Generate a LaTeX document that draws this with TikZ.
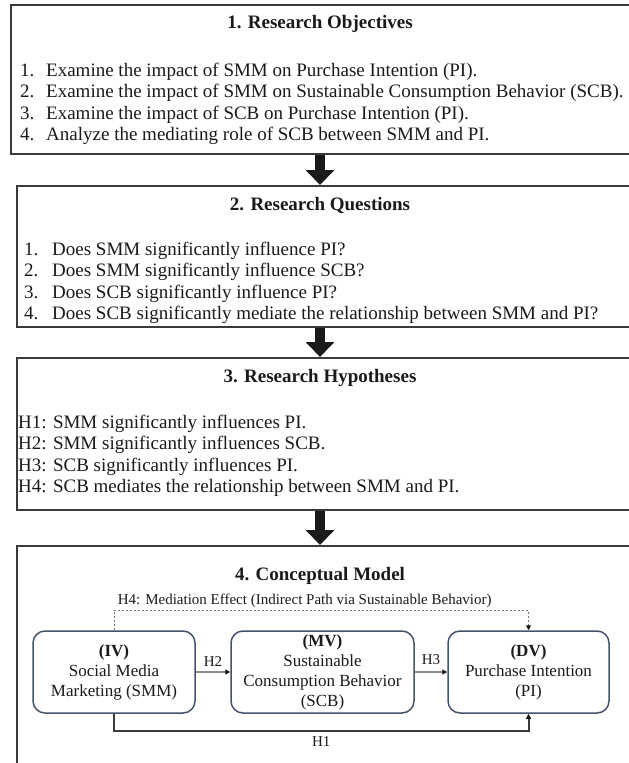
\documentclass[tikz,border=0pt]{standalone}
\usepackage{fontspec}
\setmainfont{Liberation Serif}
\usetikzlibrary{arrows.meta,calc}

\definecolor{panelline}{RGB}{58,58,58}
\definecolor{modelline}{RGB}{68,84,106}
\definecolor{inkblack}{RGB}{26,26,26}
\definecolor{pathgray}{RGB}{140,140,140}
\definecolor{dashgray}{RGB}{120,120,120}

\newcommand{\itemfont}{\fontsize{19}{21.5}\selectfont}
\newcommand{\headfont}{\fontsize{19}{22}\selectfont\bfseries}
\newcommand{\modelfont}{\fontsize{17}{20}\selectfont}
\newcommand{\tagfont}{\fontsize{15}{17}\selectfont}

\begin{document}
\begin{tikzpicture}[x=1pt,y=-1pt,
  panel/.style={draw=panelline, line width=1.8pt, anchor=north west, inner sep=0pt},
  heading/.style={anchor=base, font=\headfont, text=inkblack, inner sep=0pt},
  itemlist/.style={anchor=base west, font=\itemfont, text=inkblack, inner sep=0pt},
  flowarrow/.style={line width=10pt, inkblack, -{Triangle[width=28pt,length=15pt]}},
  varbox/.style={draw=modelline, line width=1.5pt, rounded corners=12pt,
    minimum height=82pt, align=center, font=\modelfont, text=inkblack, inner sep=2pt},
  directpath/.style={draw=pathgray, line width=2pt, -{Triangle[width=5pt,length=5pt,fill=inkblack,color=inkblack]}},
  totalpath/.style={draw=panelline, line width=2pt, -{Triangle[width=5pt,length=5pt,fill=inkblack,color=inkblack]}},
  mediationpath/.style={draw=dashgray, line width=1pt, dash pattern=on 2pt off 2pt, -{Triangle[width=5pt,length=5pt,fill=inkblack,color=inkblack]}},
  pathtag/.style={font=\tagfont, text=inkblack, inner sep=2pt}
]
\useasboundingbox (0,0) rectangle (629,763);
\clip (0,0) rectangle (629,763);

% ---- stage panels (they run past the right edge; the last one past the bottom)
\node[panel, minimum width=640pt, minimum height=149pt] (objectives) at (10,4) {};
\node[panel, minimum width=640pt, minimum height=141pt] (questions) at (16,185) {};
\node[panel, minimum width=640pt, minimum height=152pt] (hypotheses) at (16,357) {};
\node[panel, minimum width=640pt, minimum height=240pt] (model) at (16,545) {};

% ---- 1. research objectives
\node[heading] (objhead) at (320,28) {1. Research Objectives};
\node[itemlist] (objlist) at (20,76) {%
  \begin{tabular}[t]{@{}p{26pt}@{}l@{}}
  1. & Examine the impact of SMM on Purchase Intention (PI).\\
  2. & Examine the impact of SMM on Sustainable Consumption Behavior (SCB).\\
  3. & Examine the impact of SCB on Purchase Intention (PI).\\
  4. & Analyze the mediating role of SCB between SMM and PI.
  \end{tabular}};

% ---- 2. research questions
\node[heading] (quehead) at (320,210) {2. Research Questions};
\node[itemlist] (quelist) at (24,255) {%
  \begin{tabular}[t]{@{}p{28pt}@{}l@{}}
  1. & Does SMM significantly influence PI?\\
  2. & Does SMM significantly influence SCB?\\
  3. & Does SCB significantly influence PI?\\
  4. & Does SCB significantly mediate the relationship between SMM and PI?
  \end{tabular}};

% ---- 3. research hypotheses
\node[heading] (hyphead) at (320,382) {3. Research Hypotheses};
\node[itemlist] (hyplist) at (18,428) {%
  \begin{tabular}[t]{@{}l@{}}
  H1: SMM significantly influences PI.\\
  H2: SMM significantly influences SCB.\\
  H3: SCB significantly influences PI.\\
  H4: SCB mediates the relationship between SMM and PI.
  \end{tabular}};

% ---- 4. conceptual model
\node[heading] (modhead) at (320,580) {4. Conceptual Model};

\node[varbox, minimum width=162pt] (iv) at (114,672)
  {\textbf{(IV)}\\Social Media\\Marketing (SMM)};
\node[varbox, minimum width=183pt] (mv) at (322.5,672)
  {\textbf{(MV)}\\Sustainable\\Consumption Behavior\\(SCB)};
\node[varbox, minimum width=161pt] (dv) at (528.5,672)
  {\textbf{(DV)}\\Purchase Intention\\(PI)};

\draw[directpath] (iv) -- node[pathtag, above, inner sep=5pt] (htwo) {H2} (mv);
\draw[directpath] (mv) -- node[pathtag, above, inner sep=6pt] (hthree) {H3} (dv);
\draw[mediationpath] (iv.north) -- ++(0,-20)
  -| node[pathtag, pos=0.23, above] (hfour) {H4: Mediation Effect (Indirect Path via Sustainable Behavior)} (dv.north);
\draw[totalpath] (iv.south) -- ++(0,17)
  -| node[pathtag, pos=0.25, below, inner sep=5pt] (hone) {H1} (dv.south);

% ---- block arrows between the stages
\draw[flowarrow] (objectives.south -| objhead) -- (questions.north -| objhead);
\draw[flowarrow] (questions.south -| quehead) -- (hypotheses.north -| quehead);
\draw[flowarrow] (hypotheses.south -| hyphead) -- (model.north -| hyphead);
\end{tikzpicture}
\end{document}
